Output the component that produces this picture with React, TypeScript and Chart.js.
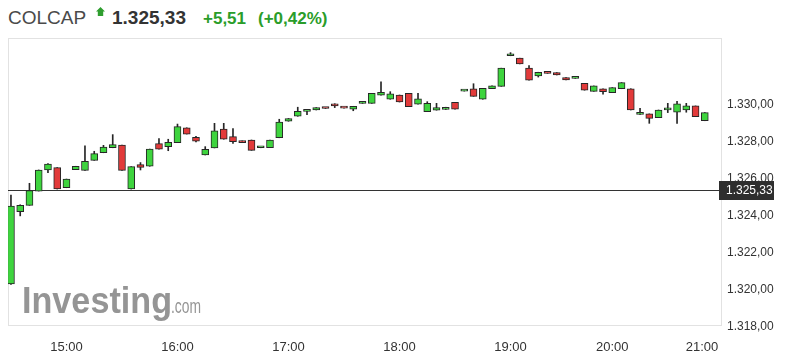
import React, { useEffect, useRef } from "react";
import { Chart, registerables } from "chart.js";

Chart.register(...registerables);

// ---- data ----
const opens = [
  1320.22, 1324.13, 1324.47, 1325.24, 1326.38, 1326.51, 1325.42, 1326.40, 1326.36, 1326.90,
  1327.31, 1327.58, 1327.73, 1325.35, 1326.67, 1326.58, 1327.80, 1327.64, 1327.86, 1328.66,
  1328.15, 1327.19, 1327.57, 1328.59, 1328.18, 1327.88, 1328.00, 1327.58, 1327.59, 1328.12,
  1329.01, 1329.28, 1329.55, 1329.62, 1329.72, 1329.96, 1329.73, 1329.66, 1329.98, 1329.98,
  1330.42, 1330.20, 1330.43, 1330.52, 1329.93, 1329.53, 1329.61, 1329.65, 1330.04, 1330.64,
  1330.77, 1330.20, 1330.77, 1330.90, 1332.55, 1332.42, 1331.88, 1331.46, 1331.62, 1331.64,
  1331.37, 1331.33, 1331.06, 1330.63, 1330.76, 1330.56, 1330.77, 1330.77, 1329.38, 1329.41,
  1329.21, 1329.63, 1329.50, 1329.62, 1329.84, 1329.04,
];
const highs = [
  1325.03, 1324.50, 1325.66, 1326.38, 1326.72, 1326.51, 1325.89, 1326.58, 1327.68, 1327.39,
  1327.71, 1328.29, 1327.73, 1326.56, 1326.78, 1327.51, 1328.07, 1328.04, 1328.86, 1328.66,
  1328.20, 1327.64, 1328.90, 1328.90, 1328.61, 1327.95, 1328.00, 1327.60, 1328.00, 1329.12,
  1329.16, 1329.77, 1329.56, 1329.75, 1329.72, 1329.96, 1329.73, 1329.82, 1330.06, 1330.52,
  1331.14, 1330.61, 1330.43, 1330.52, 1330.52, 1330.07, 1329.98, 1329.77, 1330.04, 1330.66,
  1331.04, 1330.79, 1330.92, 1331.88, 1332.72, 1332.42, 1332.02, 1331.66, 1331.62, 1331.64,
  1331.37, 1331.35, 1331.06, 1330.92, 1330.76, 1330.83, 1331.10, 1330.77, 1329.71, 1329.41,
  1329.62, 1329.98, 1330.09, 1329.98, 1329.84, 1329.48,
];
const lows = [
  1320.20, 1323.90, 1324.47, 1325.24, 1326.23, 1325.35, 1325.42, 1326.40, 1326.36, 1326.90,
  1327.31, 1327.58, 1326.36, 1325.35, 1326.38, 1326.58, 1327.51, 1327.42, 1327.86, 1328.32,
  1327.90, 1327.19, 1327.57, 1328.04, 1327.82, 1327.86, 1327.44, 1327.58, 1327.59, 1328.12,
  1329.01, 1329.28, 1329.37, 1329.62, 1329.70, 1329.75, 1329.72, 1329.58, 1329.98, 1329.98,
  1330.42, 1330.20, 1330.05, 1329.80, 1329.93, 1329.53, 1329.61, 1329.65, 1329.66, 1330.64,
  1330.36, 1330.20, 1330.77, 1330.90, 1332.55, 1332.11, 1331.23, 1331.40, 1331.60, 1331.51,
  1331.24, 1331.33, 1330.69, 1330.63, 1330.47, 1330.56, 1330.77, 1329.62, 1329.38, 1328.90,
  1329.21, 1329.48, 1328.90, 1329.50, 1329.26, 1329.04,
];
const closes = [
  1324.43, 1324.47, 1325.26, 1326.38, 1326.70, 1325.35, 1325.89, 1326.58, 1326.85, 1327.26,
  1327.61, 1327.75, 1326.36, 1326.56, 1326.52, 1327.51, 1327.51, 1327.88, 1328.72, 1328.32,
  1327.93, 1327.50, 1328.49, 1328.04, 1327.91, 1327.86, 1327.44, 1327.60, 1328.00, 1328.97,
  1329.16, 1329.55, 1329.56, 1329.75, 1329.70, 1329.84, 1329.72, 1329.82, 1330.00, 1330.52,
  1330.58, 1330.49, 1330.05, 1329.80, 1330.22, 1329.98, 1329.75, 1329.67, 1329.66, 1330.66,
  1330.36, 1330.79, 1330.92, 1331.88, 1332.57, 1332.11, 1331.23, 1331.66, 1331.60, 1331.51,
  1331.24, 1331.35, 1330.69, 1330.92, 1330.61, 1330.83, 1331.10, 1329.62, 1329.40, 1329.17,
  1329.62, 1329.65, 1329.96, 1329.84, 1329.26, 1329.48,
];

const timeTickPositions = [6, 18, 30, 42, 54, 65, 74.7];
const timeLabels = ["15:00", "16:00", "17:00", "18:00", "19:00", "20:00", "21:00"];
const priceTicks = [1318, 1320, 1322, 1324, 1326, 1328, 1330];
const referencePrice = 1325.33;

const headerName = "COLCAP";
const headerPrice = "1.325,33";
const headerChange = "+5,51";
const headerChangePct = "(+0,42%)";

// ---- styling ----
const FONT = '"Liberation Sans", Arial, sans-serif';
const GREEN = "#3ed43e";
const RED = "#e23a3a";
const EDGE = "#262626";

function fmt(v: number): string {
  const [i, d] = v.toFixed(2).split(".");
  return i.replace(/\B(?=(\d{3})+(?!\d))/g, ".") + "," + d;
}

const overlayPlugin = {
  id: "overlay",
  beforeDatasetsDraw(chart: any) {
    const { ctx, chartArea: a } = chart;
    ctx.save();
    // frame
    ctx.strokeStyle = "#e2e2e2";
    ctx.lineWidth = 1;
    ctx.strokeRect(a.left + 0.5, a.top + 0.5, a.width - 1, a.height - 1);
    // watermark
    ctx.fillStyle = "#959595";
    ctx.textBaseline = "alphabetic";
    ctx.textAlign = "left";
    ctx.font = `bold 37px ${FONT}`;
    ctx.fillText("Investing", 22, 313, 150);
    ctx.font = `20px ${FONT}`;
    ctx.fillText(".com", 171, 313, 30);
    // reference line
    const y = Math.round(chart.scales.y.getPixelForValue(referencePrice)) + 1.5;
    ctx.strokeStyle = "#333";
    ctx.beginPath();
    ctx.moveTo(a.left, y);
    ctx.lineTo(a.right, y);
    ctx.stroke();
    ctx.restore();
  },
  afterDraw(chart: any) {
    const { ctx, chartArea: a } = chart;
    const y = Math.round(chart.scales.y.getPixelForValue(referencePrice)) + 1;
    ctx.save();
    ctx.fillStyle = "#2e2e2e";
    ctx.fillRect(a.right - 3, y - 9, 55, 19);
    ctx.fillStyle = "#ffffff";
    ctx.font = `12px ${FONT}`;
    ctx.textBaseline = "middle";
    ctx.textAlign = "left";
    ctx.fillText(fmt(referencePrice), a.right + 4, y + 1);
    ctx.restore();
  },
};

export default function App() {
  const ref = useRef<HTMLCanvasElement | null>(null);

  useEffect(() => {
    if (!ref.current) return;
    const idx = opens.map((_, i) => i);
    const bodies = idx.map((i) => ({
      x: i,
      y: [Math.min(opens[i], closes[i]), Math.max(opens[i], closes[i])],
    }));
    const wicks = idx.map((i) => ({ x: i, y: [lows[i], highs[i]] }));
    const colors = idx.map((i) => (closes[i] >= opens[i] ? GREEN : RED));

    const chart = new Chart(ref.current, {
      type: "bar",
      data: {
        datasets: [
          {
            label: "body",
            data: bodies as any,
            backgroundColor: colors,
            borderColor: EDGE,
            borderWidth: 1,
            borderSkipped: false,
            barThickness: 7,
            minBarLength: 2,
            grouped: false,
            order: 0,
          } as any,
          {
            label: "wick",
            data: wicks as any,
            backgroundColor: EDGE,
            borderWidth: 0,
            barThickness: 1,
            grouped: false,
            order: 1,
          } as any,
        ],
      },
      options: {
        animation: false,
        responsive: false,
        devicePixelRatio: 1,
        layout: { padding: { left: 8, top: 38, right: 0, bottom: 0 } },
        plugins: { legend: { display: false }, tooltip: { enabled: false } },
        scales: {
          x: {
            type: "linear",
            offset: false,
            min: -0.32,
            max: 76.86,
            grid: { display: false, drawTicks: false, offset: false },
            border: { display: false },
            afterBuildTicks: (s: any) => {
              s.ticks = timeTickPositions.map((v) => ({ value: v }));
            },
            afterFit: (s: any) => {
              s.height = 35;
            },
            ticks: {
              autoSkip: false,
              maxRotation: 0,
              padding: 14,
              color: "#333",
              font: { family: FONT, size: 13 },
              callback: (_v: any, i: number) => timeLabels[i],
            },
          } as any,
          y: {
            type: "linear",
            position: "right",
            min: 1317.95,
            max: 1333.51,
            grid: { display: false, drawTicks: false },
            border: { display: false },
            afterBuildTicks: (s: any) => {
              s.ticks = priceTicks.map((v) => ({ value: v }));
            },
            afterFit: (s: any) => {
              s.width = 66;
            },
            ticks: {
              padding: 5,
              labelOffset: 2,
              color: "#333",
              font: { family: FONT, size: 12 },
              callback: (v: any) => fmt(Number(v)),
            },
          } as any,
        },
      },
      plugins: [overlayPlugin],
    });
    return () => chart.destroy();
  }, []);

  const span = (left: number, top: number, size: number, color: string, bold: boolean) =>
    ({
      position: "absolute",
      left,
      top,
      fontSize: size,
      lineHeight: 1,
      color,
      fontWeight: bold ? 700 : 400,
      fontFamily: FONT,
      whiteSpace: "nowrap",
    } as React.CSSProperties);

  return (
    <div
      style={{
        position: "absolute",
        left: 0,
        top: 0,
        width: 788,
        height: 361,
        background: "#fff",
        overflow: "hidden",
      }}
    >
      <span style={span(8, 8, 19, "#4a4a4a", false)}>{headerName}</span>
      <div
        style={{
          position: "absolute",
          left: 96,
          top: 7,
          width: 9,
          height: 9,
          background: "#2f9e2f",
          clipPath: "polygon(50% 0, 100% 50%, 80% 50%, 80% 100%, 20% 100%, 20% 50%, 0 50%)",
        }}
      />
      <span style={span(112, 8, 19, "#333", true)}>{headerPrice}</span>
      <span style={span(203, 10, 17, "#2a9d2a", true)}>{headerChange}</span>
      <span style={span(258, 10, 17, "#2a9d2a", true)}>{headerChangePct}</span>
      <canvas
        ref={ref}
        width={788}
        height={361}
        style={{ position: "absolute", left: 0, top: 0, width: 788, height: 361 }}
      />
    </div>
  );
}
